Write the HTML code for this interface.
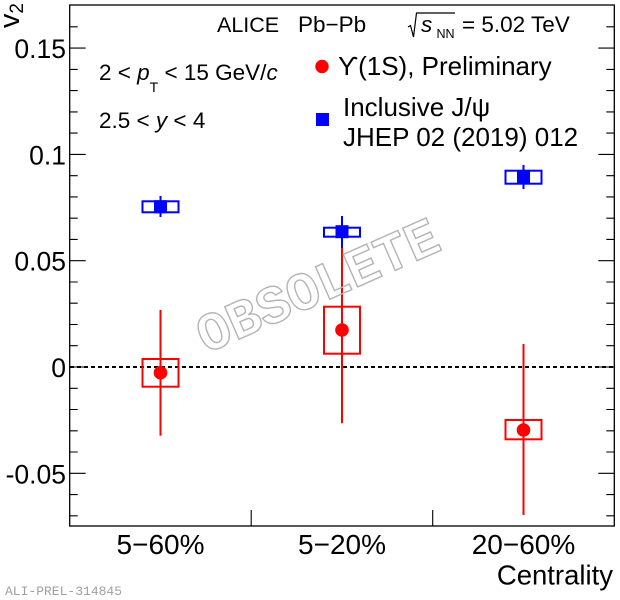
<!DOCTYPE html>
<html><head><meta charset="utf-8"><style>
html,body{margin:0;padding:0;background:#fff;}
svg{display:block;}
text{font-family:"Liberation Sans",Arial,sans-serif;fill:#000;}
</style></head><body>
<svg width="620" height="600" viewBox="0 0 620 600" xmlns="http://www.w3.org/2000/svg">
<rect x="0" y="0" width="620" height="600" fill="#fff"/>
<!-- frame -->
<rect x="69.7" y="5" width="544.6" height="521" fill="none" stroke="#000" stroke-width="1.3"/>
<!-- ticks -->
<path stroke="#000" stroke-width="1.1" fill="none" d="
M69.7,515.8h8 M69.7,494.6h8 M69.7,473.3h16 M69.7,452h8 M69.7,430.8h8 M69.7,409.5h8 M69.7,388.3h8
M69.7,367h16 M69.7,345.7h8 M69.7,324.5h8 M69.7,303.2h8 M69.7,282h8 M69.7,260.7h16
M69.7,239.4h8 M69.7,218.2h8 M69.7,196.9h8 M69.7,175.7h8 M69.7,154.4h16
M69.7,133.1h8 M69.7,111.9h8 M69.7,90.6h8 M69.7,69.4h8 M69.7,48.1h16 M69.7,26.8h8
M614.3,515.8h-8 M614.3,494.6h-8 M614.3,473.3h-16 M614.3,452h-8 M614.3,430.8h-8 M614.3,409.5h-8 M614.3,388.3h-8
M614.3,367h-16 M614.3,345.7h-8 M614.3,324.5h-8 M614.3,303.2h-8 M614.3,282h-8 M614.3,260.7h-16
M614.3,239.4h-8 M614.3,218.2h-8 M614.3,196.9h-8 M614.3,175.7h-8 M614.3,154.4h-16
M614.3,133.1h-8 M614.3,111.9h-8 M614.3,90.6h-8 M614.3,69.4h-8 M614.3,48.1h-16 M614.3,26.8h-8
M251.2,526v-16 M432.7,526v-16"/>
<!-- y tick labels -->
<g font-size="26.5" text-anchor="end">
<text x="66" y="58">0.15</text>
<text x="66" y="164.4">0.1</text>
<text x="66" y="270.7">0.05</text>
<text x="66" y="377">0</text>
<text x="66" y="483.3">-0.05</text>
</g>
<!-- y title -->
<text transform="translate(19,3) rotate(-90)" text-anchor="end" font-size="29">v<tspan font-size="19" dy="4">2</tspan></text>
<!-- x labels -->
<g font-size="28" text-anchor="middle">
<text x="160.5" y="554">5−60%</text>
<text x="342" y="554">5−20%</text>
<text x="523.5" y="554">20−60%</text>
</g>
<text x="613" y="584.5" font-size="27.5" text-anchor="end">Centrality</text>
<text x="5" y="595" font-size="13" style="font-family:'Liberation Mono',monospace;fill:#a0a0a0">ALI-PREL-314845</text>
<!-- zero line -->
<line x1="70" y1="367" x2="614" y2="367" stroke="#000" stroke-width="2" stroke-dasharray="4,3"/>
<!-- red series -->
<g stroke="#ff0000" stroke-width="2" fill="none">
<line x1="160.5" y1="310" x2="160.5" y2="435.7"/>
<line x1="342" y1="247" x2="342" y2="423.3"/>
<line x1="523.5" y1="344" x2="523.5" y2="515"/>
<rect x="142.5" y="359" width="36" height="27.7"/>
<rect x="324" y="306.7" width="36" height="47"/>
<rect x="505.5" y="420" width="36" height="19.3"/>
</g>
<g fill="#ff0000">
<circle cx="160.5" cy="372.7" r="6.8"/>
<circle cx="342" cy="330" r="6.8"/>
<circle cx="523.5" cy="430" r="6.8"/>
</g>
<!-- blue series -->
<g stroke="#0000ff" stroke-width="2" fill="none">
<line x1="160.5" y1="196" x2="160.5" y2="217"/>
<line x1="342" y1="216" x2="342" y2="248"/>
<line x1="523.5" y1="165" x2="523.5" y2="189"/>
<rect x="142.5" y="201.3" width="36" height="11"/>
<rect x="324" y="227.7" width="36" height="9"/>
<rect x="505.5" y="170.7" width="36" height="13"/>
</g>
<g fill="#0000ff">
<rect x="154" y="200.2" width="13" height="13"/>
<rect x="335.5" y="225.2" width="13" height="13"/>
<rect x="517" y="170.8" width="13" height="13"/>
</g>
<!-- header text -->
<text x="217" y="32" font-size="21.5">ALICE</text>
<text x="298" y="32" font-size="22.5">Pb−Pb</text>
<path d="M408,27 L410.5,25.5 L413.5,37 L416.5,13 L455,13" stroke="#000" stroke-width="1.2" fill="none"/>
<text x="421" y="32" font-size="22.5" font-style="italic">s</text>
<text x="436.5" y="38" font-size="12.5">NN</text>
<text x="462" y="32" font-size="22.5">= 5.02 TeV</text>
<text x="99" y="80" font-size="22.5">2 &lt; <tspan font-style="italic">p</tspan><tspan font-size="14" dy="12">T</tspan><tspan dy="-12"> &lt; 15 GeV/</tspan><tspan font-style="italic">c</tspan></text>
<text x="99" y="128" font-size="22.5">2.5 &lt; <tspan font-style="italic">y</tspan> &lt; 4</text>
<!-- legend -->
<circle cx="322" cy="66.5" r="6.7" fill="#ff0000"/>
<rect x="316" y="113" width="13" height="13" fill="#0000ff"/>
<g font-size="26">
<text x="338" y="75">ϒ(1S), Preliminary</text>
<text x="343" y="116">Inclusive J/ψ</text>
<text x="343" y="146">JHEP 02 (2019) 012</text>
</g>
<!-- watermark -->
<text transform="translate(317.5,285) rotate(-23.8)" x="0" y="18" text-anchor="middle" font-size="54" font-weight="bold" style="font-family:'Liberation Mono',monospace;fill:none;stroke:#b4b4b4;stroke-width:1.4">OBSOLETE</text>
</svg>
</body></html>
